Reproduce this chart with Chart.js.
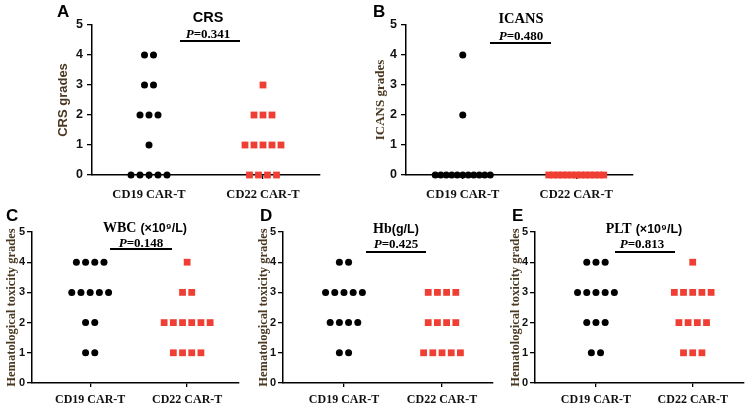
<!DOCTYPE html>
<html><head><meta charset="utf-8">
<script src="https://cdn.jsdelivr.net/npm/chart.js@4.4.1/dist/chart.umd.min.js"></script>
<style>
html,body{margin:0;padding:0;background:#fff;}
#wrap{position:relative;width:753px;height:414px;overflow:hidden;background:#fff;}
canvas{position:absolute;}
.t{position:absolute;transform:translate(-50%,-50%);white-space:nowrap;color:#000;line-height:1;font-weight:bold;}
.serif{font-family:"Liberation Serif","Times New Roman",serif;}
.sans{font-family:"Liberation Sans",Arial,sans-serif;}
.letter{position:absolute;font:bold 17px "Liberation Sans",Arial,sans-serif;line-height:1;color:#000;}
.sig{position:absolute;height:2px;background:#000;}
</style></head><body><div id="wrap"></div>
<script>
// ---------------- data ----------------
const categories = ['CD19 CAR-T', 'CD22 CAR-T'];
const yTicks = [0, 1, 2, 3, 4, 5];

const crsCD19   = [4, 4, 3, 3, 2, 2, 2, 1, 0, 0, 0, 0, 0];
const crsCD22   = [3, 2, 2, 2, 1, 1, 1, 1, 1, 0, 0, 0, 0];
const icansCD19 = [4, 2, 0, 0, 0, 0, 0, 0, 0, 0, 0, 0, 0];
const icansCD22 = [0, 0, 0, 0, 0, 0, 0, 0, 0, 0, 0, 0, 0];
const wbcCD19   = [4, 4, 4, 4, 3, 3, 3, 3, 3, 2, 2, 1, 1];
const wbcCD22   = [4, 3, 3, 2, 2, 2, 2, 2, 2, 1, 1, 1, 1];
const hbCD19    = [4, 4, 3, 3, 3, 3, 3, 2, 2, 2, 2, 1, 1];
const hbCD22    = [3, 3, 3, 3, 2, 2, 2, 2, 1, 1, 1, 1, 1];
const pltCD19   = [4, 4, 4, 3, 3, 3, 3, 3, 2, 2, 2, 1, 1];
const pltCD22   = [4, 3, 3, 3, 3, 3, 2, 2, 2, 2, 1, 1, 1];

const panelLetters = ['A', 'B', 'C', 'D', 'E'];
const titleMain  = ['CRS', 'ICANS', 'WBC', 'Hb', 'PLT'];
const titleUnit  = ['', '', '(×10⁹/L)', '(g/L)', '(×10⁹/L)'];
const pValues    = ['0.341', '0.480', '0.148', '0.425', '0.813'];
const yTitles    = ['CRS grades', 'ICANS grades', 'Hematological toxicity grades',
                    'Hematological toxicity grades', 'Hematological toxicity grades'];
const seriesCD19 = [crsCD19, icansCD19, wbcCD19, hbCD19, pltCD19];
const seriesCD22 = [crsCD22, icansCD22, wbcCD22, hbCD22, pltCD22];

// ---------------- layout (page pixels) ----------------
const layouts = [
  {x:0,   y:0,   w:340, h:212, pl:92,  pr:320, pt:25,  pb:175, xmin:0.5,  xmax:2.5,
   yfs:12.5, xfs:12.5, ytfs:13, ytc:63, xpad:8, ypad:4, step:9,
   tFam:'sans', tfs:14.5, ufs:13, letter:[57,3], title:[208,17], p:[208,33], line:[180,240,41]},
  {x:340, y:0,   w:310, h:212, pl:406, pr:633, pt:25,  pb:175, xmin:0.5,  xmax:2.5,
   yfs:12.5, xfs:12.5, ytfs:13, ytc:381, xpad:8, ypad:4, step:9,
   tFam:'serif', tfs:14.5, ufs:13, letter:[373,3], title:[521,18], p:[521,35], line:[490,551,43]},
  {x:0,   y:205, w:250, h:209, pl:32,  pr:239, pt:232, pb:383, xmin:0.4,  xmax:2.535,
   yfs:11, xfs:12, ytfs:12.5, ytc:11.5, xpad:6, ypad:2, step:9.2,
   tFam:'serif', tfs:14, ufs:12.5, letter:[6,207], title:[145,227], p:[141,242], line:[110,172,249]},
  {x:250, y:205, w:250, h:209, pl:283, pr:493, pt:232, pb:383, xmin:0.378, xmax:2.52,
   yfs:11, xfs:12, ytfs:12.5, ytc:264, xpad:6, ypad:2, step:9.2,
   tFam:'serif', tfs:14, ufs:12.5, letter:[260,207], title:[396,228], p:[396,243], line:[366,426,252]},
  {x:500, y:205, w:253, h:209, pl:535, pr:744, pt:232, pb:383, xmin:0.37, xmax:2.53,
   yfs:11, xfs:12, ytfs:12.5, ytc:516, xpad:6, ypad:2, step:9.2,
   tFam:'serif', tfs:14, ufs:12.5, letter:[512,207], title:[644,228], p:[642,243], line:[615,675,252]}
];

const wrap = document.getElementById('wrap');

// spread points with the same grade horizontally around the group centre (dot plot layout)
function spreadPoints(grades, centre, pxPerUnit, stepPx) {
  const counts = {};
  grades.forEach(g => counts[g] = (counts[g] || 0) + 1);
  const seen = {};
  return grades.map(g => {
    const n = counts[g];
    const i = seen[g] = (seen[g] === undefined ? 0 : seen[g] + 1);
    const step = n > 1 ? Math.min(stepPx, 55 / (n - 1)) : 0;
    return {x: centre + (i - (n - 1) / 2) * step / pxPerUnit, y: g};
  });
}

function addDiv(cls, html, styles) {
  const d = document.createElement('div');
  d.className = cls;
  d.innerHTML = html;
  Object.assign(d.style, styles);
  wrap.appendChild(d);
  return d;
}

layouts.forEach((p, k) => {
  const c = document.createElement('canvas');
  c.width = p.w; c.height = p.h;
  c.style.left = p.x + 'px'; c.style.top = p.y + 'px';
  c.style.width = p.w + 'px'; c.style.height = p.h + 'px';
  wrap.appendChild(c);
  const pxPerUnit = (p.pr - p.pl) / (p.xmax - p.xmin);
  const ytFamily = k === 0 ? '"Liberation Sans Narrow","Liberation Sans",Arial,sans-serif' : '"Liberation Serif","Times New Roman",serif';
  const ytLine = p.ytfs * 1.2;
  new Chart(c, {
    type: 'scatter',
    data: {datasets: [
      {data: spreadPoints(seriesCD19[k], 1, pxPerUnit, p.step), pointStyle: 'circle', pointRadius: 3.5,
       backgroundColor: '#000', borderWidth: 0, clip: false},
      {data: spreadPoints(seriesCD22[k], 2, pxPerUnit, p.step), pointStyle: 'rect', pointRadius: 4.8,
       backgroundColor: '#ef3e33', borderWidth: 0, clip: false}
    ]},
    options: {
      responsive: false, animation: false, events: [],
      layout: {padding: {left: 0, top: p.pt - p.y, right: p.x + p.w - p.pr, bottom: 0}},
      plugins: {legend: {display: false}, tooltip: {enabled: false}},
      scales: {
        x: {type: 'linear', min: p.xmin, max: p.xmax,
          afterBuildTicks: s => { s.ticks = [{value: 1}, {value: 2}]; },
          afterFit: s => { s.height = p.y + p.h - p.pb; },
          ticks: {autoSkip: false, maxRotation: 0, color: '#111', padding: p.xpad,
            callback: v => categories[Math.round(v) - 1] || '',
            font: {family: '"Liberation Serif","Times New Roman",serif', weight: 'bold', size: p.xfs}},
          grid: {display: true, drawOnChartArea: false, drawTicks: true, tickLength: 4, color: '#000', lineWidth: 1.3},
          border: {display: true, color: '#000', width: 1.5}
        },
        y: {type: 'linear', min: 0, max: 5,
          afterBuildTicks: s => { s.ticks = yTicks.map(v => ({value: v})); },
          afterFit: s => { s.width = p.pl - p.x; },
          ticks: {color: '#111', padding: p.ypad,
            font: {family: '"Liberation Sans",Arial,sans-serif', weight: 'bold', size: p.yfs}},
          grid: {display: true, drawOnChartArea: false, drawTicks: true, tickLength: 5, color: '#000', lineWidth: 1.3},
          border: {display: true, color: '#000', width: 1.5},
          title: {display: true, text: yTitles[k], color: '#4a3820',
            font: {family: ytFamily, weight: 'bold', size: p.ytfs},
            padding: {top: (p.ytc - p.x) - ytLine / 2, bottom: 0}}
        }
      }
    }
  });

  addDiv('letter', panelLetters[k], {left: p.letter[0] + 'px', top: p.letter[1] + 'px'});
  const mainCls = p.tFam === 'sans' ? 'sans' : 'serif';
  let th = '<span class="' + mainCls + '" style="font-size:' + p.tfs + 'px">' + titleMain[k] + '</span>';
  if (titleUnit[k]) {
    th += (k === 3 ? '' : ' ') + '<span class="sans" style="font-size:' + p.ufs + 'px">' + titleUnit[k] + '</span>';
  }
  addDiv('t', th, {left: p.title[0] + 'px', top: p.title[1] + 'px'});
  addDiv('t serif', '<i>P</i>=' + pValues[k], {left: p.p[0] + 'px', top: p.p[1] + 'px', fontSize: '13px'});
  addDiv('sig', '', {left: p.line[0] + 'px', width: (p.line[1] - p.line[0]) + 'px', top: (p.line[2] - 1) + 'px'});
});
</script>
</body></html>
